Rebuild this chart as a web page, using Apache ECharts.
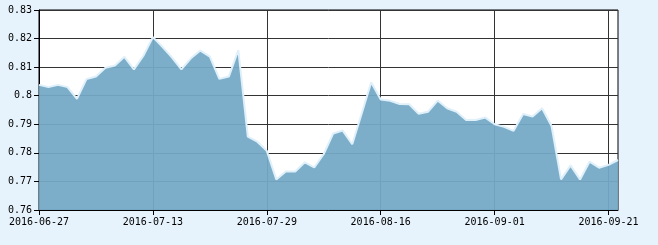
<!DOCTYPE html>
<html><head><meta charset="utf-8">
<script src="https://cdn.jsdelivr.net/npm/echarts@6/dist/echarts.min.js"></script>
<style>html,body{margin:0;padding:0;background:#e7f3fc;}#c{width:658px;height:245px;}</style>
</head><body><div id="c"></div>
<script>
const dates = ['2016-06-27','2016-06-28','2016-06-29','2016-06-30','2016-07-01','2016-07-04','2016-07-05','2016-07-06','2016-07-07','2016-07-08',
'2016-07-11','2016-07-12','2016-07-13','2016-07-14','2016-07-15','2016-07-18','2016-07-19','2016-07-20','2016-07-21','2016-07-22',
'2016-07-25','2016-07-26','2016-07-27','2016-07-28','2016-07-29','2016-08-01','2016-08-02','2016-08-03','2016-08-04','2016-08-05',
'2016-08-08','2016-08-09','2016-08-10','2016-08-11','2016-08-12','2016-08-15','2016-08-16','2016-08-17','2016-08-18','2016-08-19',
'2016-08-22','2016-08-23','2016-08-24','2016-08-25','2016-08-26','2016-08-29','2016-08-30','2016-08-31','2016-09-01','2016-09-02',
'2016-09-05','2016-09-06','2016-09-07','2016-09-08','2016-09-09','2016-09-12','2016-09-13','2016-09-14','2016-09-19','2016-09-20',
'2016-09-21','2016-09-22'];
const values = [0.8038,0.8030,0.8038,0.8030,0.7989,0.8058,0.8067,0.8098,0.8106,0.8136,
0.8092,0.8140,0.8205,0.8171,0.8134,0.8092,0.8131,0.8158,0.8137,0.8059,
0.8067,0.8160,0.7857,0.7839,0.7807,0.7707,0.7735,0.7735,0.7767,0.7749,
0.7796,0.7868,0.7878,0.7830,0.7938,0.8047,0.7987,0.7982,0.7971,0.7970,
0.7937,0.7944,0.7983,0.7956,0.7944,0.7915,0.7915,0.7924,0.7900,0.7891,
0.7877,0.7936,0.7927,0.7956,0.7894,0.7707,0.7756,0.7707,0.7769,0.7748,
0.7758,0.7775];
const yMin = 0.76, yMax = 0.83, yStep = 0.01;
const chart = echarts.init(document.getElementById('c'));
const font = {fontFamily:'DejaVu Sans Mono', fontSize:10, color:'#000'};
chart.setOption({
  backgroundColor:'#e7f3fc',
  animation:false,
  grid:{left:39,right:40,top:10,bottom:35,show:true,backgroundColor:'#fff',borderColor:'#000',borderWidth:1,containLabel:false,outerBoundsMode:'none'},
  xAxis:{type:'category',data:dates,boundaryGap:false,
    axisLine:{lineStyle:{color:'#000',width:1}},
    axisTick:{interval:11,length:5,lineStyle:{color:'#000'}},
    axisLabel:Object.assign({interval:11,margin:7,hideOverlap:false},font),
    splitLine:{show:true,interval:11,lineStyle:{color:'#333',width:1}}},
  yAxis:{type:'value',min:yMin,max:yMax,interval:yStep,
    axisLine:{show:true,lineStyle:{color:'#000',width:1}},
    axisTick:{show:true,length:5,lineStyle:{color:'#000'}},
    axisLabel:Object.assign({margin:7,formatter:v=>String(+v.toFixed(2))},font),
    splitLine:{show:true,lineStyle:{color:'#333',width:1}}},
  series:[{type:'line',data:values,symbol:'none',
    lineStyle:{color:'#dff0fa',width:2},
    areaStyle:{color:'#75a9c6',opacity:0.94}}]
});
</script></body></html>
